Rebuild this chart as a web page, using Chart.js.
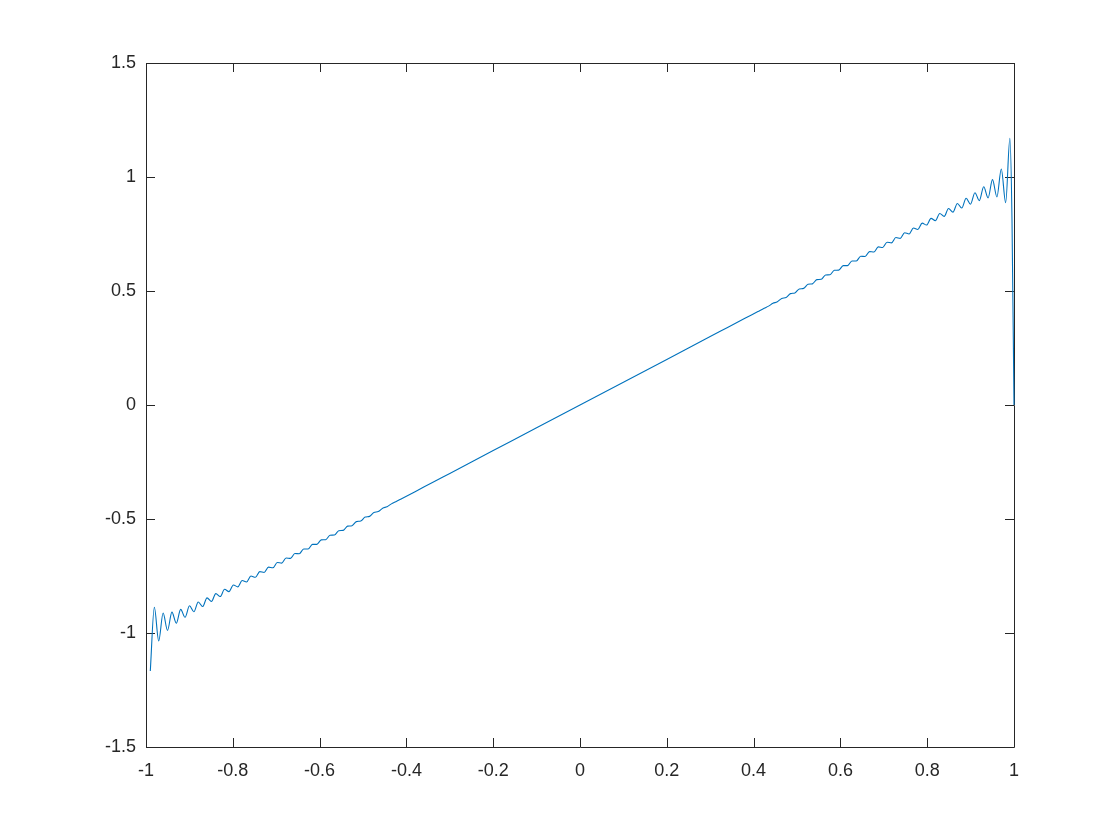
<!DOCTYPE html>
<html><head><meta charset="utf-8">
<script src="https://cdn.jsdelivr.net/npm/chart.js@4.4.1/dist/chart.umd.min.js"></script>
<style>html,body{margin:0;padding:0;background:#fff;}#wrap{width:1120px;height:840px;}</style>
</head><body><div id="wrap"><canvas id="c" width="1120" height="840"></canvas></div>
<script>
// Partial Fourier sum of the sawtooth f(x)=x
const xValues = [
 -0.9901,-0.9808,-0.9707,-0.9606,-0.9504,-0.9403,-0.9302,-0.9201,-0.9100,-0.8998,
 -0.8897,-0.8796,-0.8695,-0.8594,-0.8492,-0.8391,-0.8290,-0.8189,-0.8088,-0.7986,
 -0.7885,-0.7784,-0.7683,-0.7582,-0.7480,-0.7379,-0.7278,-0.7177,-0.7076,-0.6974,
 -0.6873,-0.6772,-0.6671,-0.6570,-0.6468,-0.6367,-0.6266,-0.6165,-0.6064,-0.5962,
 -0.5861,-0.5760,-0.5659,-0.5558,-0.5456,-0.5355,-0.5254,-0.5153,-0.5052,
 -0.4951,-0.4850,-0.4749,-0.4648,-0.4547,-0.4446,-0.4345,-0.4244,
 -0.41,-0.38,-0.34,-0.3,-0.2,-0.1,0,0.1,0.2,0.3,0.34,0.38,0.41,
 0.4244,0.4345,0.4446,0.4547,0.4648,0.4749,0.4850,0.4951,
 0.5052,0.5153,0.5254,0.5355,0.5456,0.5558,0.5659,0.5760,0.5861,0.5962,
 0.6064,0.6165,0.6266,0.6367,0.6468,0.6570,0.6671,0.6772,0.6873,0.6974,
 0.7076,0.7177,0.7278,0.7379,0.7480,0.7582,0.7683,0.7784,0.7885,0.7986,
 0.8088,0.8189,0.8290,0.8391,0.8492,0.8594,0.8695,0.8796,0.8897,0.8998,
 0.9100,0.9201,0.9302,0.9403,0.9504,0.9606,0.9707,0.9808,0.9905,0.9954,1.0
];
const yValues = [
 -1.167,-0.887,-1.035,-0.9126,-0.9887,-0.9085,-0.9574,-0.8963,-0.9311,-0.8808,
 -0.9069,-0.8638,-0.8841,-0.8459,-0.8618,-0.8273,-0.8401,-0.8084,-0.8187,-0.7892,
 -0.7975,-0.7698,-0.7765,-0.7503,-0.7555,-0.7307,-0.7348,-0.7110,-0.7141,-0.6911,
 -0.6934,-0.6713,-0.6728,-0.6515,-0.6522,-0.6315,-0.6317,-0.6115,-0.6112,-0.5915,
 -0.5907,-0.5715,-0.5703,-0.5515,-0.5498,-0.5314,-0.5294,-0.5114,-0.5090,
 -0.4914,-0.4885,-0.4717,-0.4676,-0.4525,-0.4461,-0.4337,-0.4244,
 -0.41,-0.38,-0.34,-0.3,-0.2,-0.1,0,0.1,0.2,0.3,0.34,0.38,0.41,
 0.4244,0.4337,0.4461,0.4525,0.4676,0.4717,0.4885,0.4914,
 0.5090,0.5114,0.5294,0.5314,0.5498,0.5515,0.5703,0.5715,0.5907,0.5915,
 0.6112,0.6115,0.6317,0.6315,0.6522,0.6515,0.6728,0.6713,0.6934,0.6911,
 0.7141,0.7110,0.7348,0.7307,0.7555,0.7503,0.7765,0.7698,0.7975,0.7892,
 0.8187,0.8084,0.8401,0.8273,0.8618,0.8459,0.8841,0.8638,0.9069,0.8808,
 0.9311,0.8963,0.9574,0.9085,0.9887,0.9126,1.035,0.887,1.170,0.81,0
];
const xTickValues = [-1,-0.8,-0.6,-0.4,-0.2,0,0.2,0.4,0.6,0.8,1];
const xTickLabels = ['-1','-0.8','-0.6','-0.4','-0.2','0','0.2','0.4','0.6','0.8','1'];
const yTickValues = [-1.5,-1,-0.5,0,0.5,1,1.5];
const yTickLabels = ['-1.5','-1','-0.5','0','0.5','1','1.5'];

const points = xValues.map((x,i)=>({x:x, y:yValues[i]}));
const AXIS = '#262626';
const TICKLEN = 9;

const boxPlugin = {
  id:'box',
  beforeDatasetsDraw(chart){
    const {ctx, chartArea:a, scales} = chart;
    ctx.save();
    ctx.strokeStyle = AXIS; ctx.lineWidth = 1;
    ctx.beginPath();
    ctx.rect(Math.round(a.left)+0.5, Math.round(a.top)+0.5, Math.round(a.right-a.left), Math.round(a.bottom-a.top));
    xTickValues.forEach(v=>{
      const px = Math.round(scales.x.getPixelForValue(v))+0.5;
      ctx.moveTo(px, a.bottom); ctx.lineTo(px, a.bottom-TICKLEN);
      ctx.moveTo(px, a.top); ctx.lineTo(px, a.top+TICKLEN);
    });
    yTickValues.forEach(v=>{
      const py = Math.round(scales.y.getPixelForValue(v))+0.5;
      ctx.moveTo(a.left, py); ctx.lineTo(a.left+TICKLEN, py);
      ctx.moveTo(a.right, py); ctx.lineTo(a.right-TICKLEN, py);
    });
    ctx.stroke();
    ctx.restore();
  }
};

new Chart(document.getElementById('c'), {
  type:'line',
  data:{datasets:[{
    data:points, borderColor:'#0072BD', borderWidth:1.1, pointRadius:0,
    fill:false, cubicInterpolationMode:'monotone', clip:4
  }]},
  options:{
    responsive:false, animation:false, devicePixelRatio:1,
    layout:{padding:{top:63, right:106, left:0, bottom:0}},
    plugins:{legend:{display:false}, tooltip:{enabled:false}},
    scales:{
      x:{type:'linear', min:-1, max:1,
        afterBuildTicks:(s)=>{ s.ticks = xTickValues.map(v=>({value:v})); },
        afterFit:(s)=>{ s.height = 93; },
        grid:{display:false, drawTicks:false}, border:{display:false},
        ticks:{autoSkip:false, maxRotation:0, padding:13, color:AXIS,
          font:{family:'Liberation Sans, Arial, Helvetica', size:18},
          callback:(v,i)=>xTickLabels[i]}
      },
      y:{type:'linear', min:-1.5, max:1.5,
        afterBuildTicks:(s)=>{ s.ticks = yTickValues.map(v=>({value:v})); },
        afterFit:(s)=>{ s.width = 146; },
        grid:{display:false, drawTicks:false}, border:{display:false},
        ticks:{autoSkip:false, padding:10, color:AXIS,
          font:{family:'Liberation Sans, Arial, Helvetica', size:18},
          callback:(v,i)=>yTickLabels[i]}
      }
    }
  },
  plugins:[boxPlugin]
});
</script>
</body></html>
